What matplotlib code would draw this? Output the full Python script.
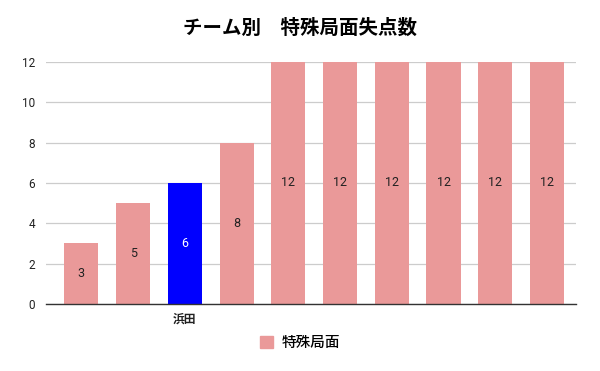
import matplotlib.pyplot as plt
from matplotlib.patches import Patch

plt.rcParams['font.family'] = ['Roboto', 'Noto Sans CJK JP', 'DejaVu Sans']
jp = ['Noto Sans CJK JP', 'DejaVu Sans']

teams = ['', '', '浜田', '', '', '', '', '', '', '']
values = [3, 5, 6, 8, 12, 12, 12, 12, 12, 12]
highlight = '浜田'

pink = '#ea9999'
blue = '#0000ff'
colors = [blue if t == highlight else pink for t in teams]

fig = plt.figure(figsize=(6, 3.71), dpi=100)
ax = fig.add_axes([0.077, 0.181, 0.883, 0.652])

x = list(range(len(values)))
bars = ax.bar(x, values, width=0.66, color=colors, zorder=3)

for b, v, c in zip(bars, values, colors):
    ax.text(b.get_x() + b.get_width() / 2, v / 2, str(v),
            ha='center', va='center', fontsize=9,
            color='white' if c == blue else '#222222', zorder=4)

ax.set_xlim(-0.68, 9.56)
ax.set_ylim(0, 12)
ax.set_yticks(range(0, 13, 2))
ax.tick_params(axis='both', length=0)
ax.tick_params(axis='y', labelsize=8.5, labelcolor='#222222', pad=8)
ax.tick_params(axis='x', pad=6)
ax.set_xticks(x)
ax.set_xticklabels(teams)
for lbl in ax.get_xticklabels():
    lbl.set_fontfamily(jp)
    lbl.set_fontsize(8.5)
    lbl.set_fontweight('bold')
    lbl.set_color('#222222')
ax.grid(axis='y', color='#cccccc', linewidth=0.9, zorder=0)
for s in ['top', 'right', 'left']:
    ax.spines[s].set_visible(False)
ax.spines['bottom'].set_color('#333333')
ax.spines['bottom'].set_linewidth(1.0)
ax.spines['bottom'].set_zorder(5)

fig.suptitle('チーム別　特殊局面失点数', x=0.5, y=0.95, fontsize=14,
             fontweight='bold', color='#000000', family=jp)

fig.legend(handles=[Patch(color=pink, label='特殊局面')],
           loc='center', bbox_to_anchor=(0.5, 0.075), frameon=False,
           prop={'family': jp, 'size': 10.5, 'weight': 'medium'},
           handlelength=0.85, handleheight=0.85, handletextpad=0.6)

fig.savefig('out.png', dpi=100)
